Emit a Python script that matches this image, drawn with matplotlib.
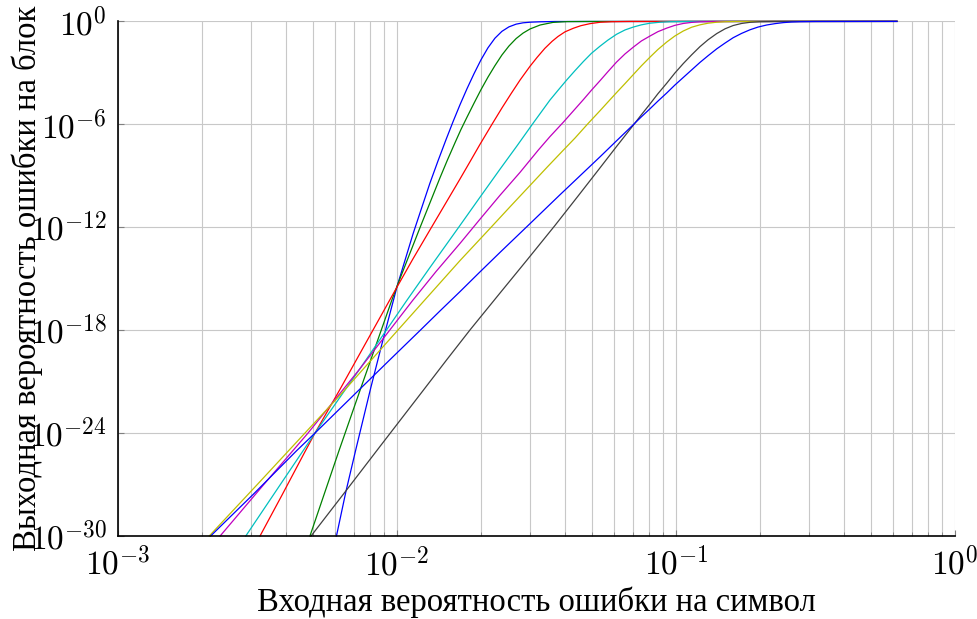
import numpy as np
import matplotlib
matplotlib.use("Agg")
import matplotlib.pyplot as plt
from matplotlib.ticker import LogLocator, NullLocator, NullFormatter

plt.rcParams['mathtext.fontset'] = 'cm'

# values, stored as log10(p) / log10(P)
blue1_lx = [-2.217, -2.183, -2.147, -2.094, -2.050, -1.999, -1.971, -1.942, -1.912, -1.882,
            -1.853, -1.824, -1.799, -1.774, -1.749, -1.724, -1.699, -1.674, -1.649, -1.624,
            -1.599, -1.573, -1.548, -1.523, -1.487, -1.434, -0.208]
blue1_ly = [-30, -27.40, -24.92, -21.36, -18.55, -15.41, -13.91, -12.36, -10.89, -9.43,
            -8.13, -6.88, -5.84, -4.85, -3.92, -3.05, -2.24, -1.54, -0.98, -0.58,
            -0.32, -0.16, -0.082, -0.047, -0.023, -0.006, 0]

green_lx = [-2.312, -2.208, -2.133, -2.019, -1.999, -1.961, -1.918, -1.882, -1.846, -1.819,
            -1.792, -1.771, -1.749, -1.724, -1.699, -1.674, -1.649, -1.624, -1.599, -1.573,
            -1.548, -1.523, -1.487, -1.441, -1.391, -1.308, -0.208]
green_ly = [-30, -25.03, -21.53, -16.27, -15.40, -13.82, -12.04, -10.58, -9.12, -8.07,
            -7.07, -6.31, -5.58, -4.77, -3.98, -3.25, -2.58, -1.96, -1.44, -1.00,
            -0.68, -0.44, -0.21, -0.058, -0.012, -0.003, 0]

red_lx = [-2.491, -2.412, -2.330, -2.294, -2.204, -2.115, -2.029, -1.999, -1.943, -1.882,
          -1.828, -1.774, -1.738, -1.703, -1.660, -1.624, -1.591, -1.559, -1.523, -1.498,
          -1.470, -1.444, -1.423, -1.398, -1.368, -1.341, -1.308, -1.272, -1.229, -1.165,
          -0.208]
red_ly = [-30, -27.61, -25.09, -24.00, -21.44, -18.84, -16.33, -15.46, -13.85, -12.16,
          -10.67, -9.18, -8.17, -7.18, -6.01, -5.05, -4.21, -3.42, -2.61, -2.10,
          -1.57, -1.16, -0.88, -0.61, -0.40, -0.25, -0.13, -0.05, -0.018, -0.003,
          0]

cyan_lx = [-2.542, -2.419, -2.294, -2.133, -1.965, -1.882, -1.774, -1.703, -1.631, -1.571,
           -1.511, -1.452, -1.423, -1.392, -1.362, -1.332, -1.303, -1.272, -1.244, -1.213,
           -1.183, -1.153, -1.124, -1.093, -1.057, -1.022, -0.950, -0.208]
cyan_ly = [-30, -27.02, -24.00, -20.25, -16.27, -14.35, -11.89, -10.26, -8.62, -7.28,
           -5.91, -4.59, -4.02, -3.42, -2.87, -2.34, -1.86, -1.44, -1.09, -0.75,
           -0.50, -0.33, -0.20, -0.105, -0.047, -0.018, -0.003, 0]

magenta_lx = [-2.634, -2.477, -2.319, -2.133, -1.944, -1.860, -1.774, -1.703, -1.631, -1.559,
              -1.494, -1.452, -1.404, -1.368, -1.332, -1.303, -1.272, -1.244, -1.213, -1.183,
              -1.153, -1.124, -1.093, -1.065, -1.033, -1.004, -0.974, -0.944, -0.914, -0.860,
              -0.208]
magenta_ly = [-30, -26.99, -24.00, -20.25, -16.27, -14.58, -12.94, -11.54, -10.14, -8.80,
              -7.51, -6.72, -5.88, -5.22, -4.56, -4.01, -3.45, -2.93, -2.37, -1.90,
              -1.50, -1.14, -0.85, -0.60, -0.39, -0.23, -0.12, -0.058, -0.023, -0.006,
              0]

yellow_lx = [-2.673, -2.502, -2.330, -2.204, -2.054, -1.902, -1.774, -1.673, -1.595, -1.523,
             -1.462, -1.404, -1.362, -1.315, -1.272, -1.244, -1.213, -1.183, -1.153, -1.124,
             -1.093, -1.065, -1.033, -1.004, -0.974, -0.944, -0.914, -0.885, -0.854, -0.824,
             -0.771, -0.208]
yellow_ly = [-30, -27.02, -24.00, -21.79, -19.04, -16.27, -13.94, -12.18, -10.81, -9.56,
             -8.50, -7.51, -6.80, -5.95, -5.20, -4.70, -4.15, -3.63, -3.10, -2.59,
             -2.08, -1.64, -1.20, -0.85, -0.56, -0.34, -0.20, -0.105, -0.047, -0.018,
             -0.003, 0]

black_lx = [-2.308, -2.186, -2.061, -1.906, -1.821, -1.738, -1.631, -1.534, -1.434, -1.351,
            -1.272, -1.213, -1.153, -1.124, -1.093, -1.065, -1.033, -1.004, -0.974, -0.944,
            -0.914, -0.885, -0.854, -0.824, -0.795, -0.765, -0.735, -0.699, -0.645, -0.208]
black_ly = [-30, -27.43, -24.78, -21.51, -19.71, -17.98, -15.84, -13.91, -11.90, -10.18,
            -8.53, -7.29, -6.05, -5.44, -4.81, -4.22, -3.60, -3.01, -2.46, -1.95,
            -1.47, -1.07, -0.71, -0.43, -0.24, -0.12, -0.053, -0.018, -0.003, 0]

blue2_lx = [-2.668, -2.514, -2.360, -2.294, -2.139, -2.027, -1.915, -1.846, -1.774, -1.703,
            -1.631, -1.529, -1.416, -1.344, -1.272, -1.213, -1.153, -1.124, -1.093, -1.065,
            -1.033, -1.004, -0.974, -0.944, -0.914, -0.885, -0.854, -0.824, -0.795, -0.765,
            -0.735, -0.706, -0.675, -0.645, -0.615, -0.586, -0.556, -0.502, -0.208]
blue2_ly = [-30, -27.55, -25.03, -24.00, -21.53, -19.75, -17.98, -16.88, -15.75, -14.61,
            -13.47, -11.88, -10.11, -9.00, -7.89, -6.96, -6.02, -5.56, -5.09, -4.65,
            -4.17, -3.71, -3.27, -2.83, -2.39, -2.00, -1.60, -1.26, -0.95, -0.70,
            -0.49, -0.33, -0.21, -0.13, -0.07, -0.035, -0.018, -0.006, 0]

x_exps = [-3, -2, -1, 0]
y_exps = [-30, -24, -18, -12, -6, 0]

curves = [
    (blue1_lx, blue1_ly, (0, 0, 1)),
    (green_lx, green_ly, (0, 0.5, 0)),
    (red_lx, red_ly, (1, 0, 0)),
    (cyan_lx, cyan_ly, (0, 0.75, 0.75)),
    (magenta_lx, magenta_ly, (0.75, 0, 0.75)),
    (yellow_lx, yellow_ly, (0.75, 0.75, 0)),
    (black_lx, black_ly, (0.25, 0.25, 0.25)),
    (blue2_lx, blue2_ly, (0, 0, 1)),
]

fig = plt.figure(figsize=(9.78, 6.19), dpi=100)
ax = fig.add_axes([118 / 978, 1 - 536 / 619, (955 - 118) / 978, (536 - 21.4) / 619])

for lx, ly, c in curves:
    ax.plot(10.0 ** np.array(lx), 10.0 ** np.array(ly), color=c, lw=0.9,
            clip_on=False, zorder=3)

ax.set_xscale('log')
ax.set_yscale('log')
ax.set_xlim(1e-3, 1)
ax.set_ylim(1e-30, 1)

ax.set_xticks([10.0 ** e for e in x_exps])
ax.set_xticklabels(['$10^{%d}$' % e for e in x_exps])
ax.xaxis.set_minor_locator(LogLocator(base=10, subs=np.arange(2, 10), numticks=20))
ax.xaxis.set_minor_formatter(NullFormatter())
ax.set_yticks([10.0 ** e for e in y_exps])
ax.set_yticklabels(['$10^{%d}$' % e for e in y_exps])
ax.yaxis.set_minor_locator(NullLocator())

ax.grid(which='both', axis='x', color='#c8c8c8', lw=0.8)
ax.grid(which='major', axis='y', color='#c8c8c8', lw=0.8)
ax.set_axisbelow(True)

for s in ['top', 'right']:
    ax.spines[s].set_visible(False)
for s in ['left', 'bottom']:
    ax.spines[s].set_linewidth(1.2)
    ax.spines[s].set_zorder(4)

ax.tick_params(which='both', direction='in', color='#808080')
ax.tick_params(which='major', length=4, labelsize=24, pad=8)
ax.tick_params(which='minor', length=3)

ax.set_xlabel('Входная вероятность ошибки на символ', fontsize=23.5,
              family='Liberation Serif')
ax.set_ylabel('Выходная вероятность ошибки на блок', fontsize=23.5,
              family='Liberation Serif')
ax.xaxis.set_label_coords(0.5, -0.098)
ax.yaxis.set_label_coords(-0.09, 0.5)

fig.savefig('out.png', dpi=100)
